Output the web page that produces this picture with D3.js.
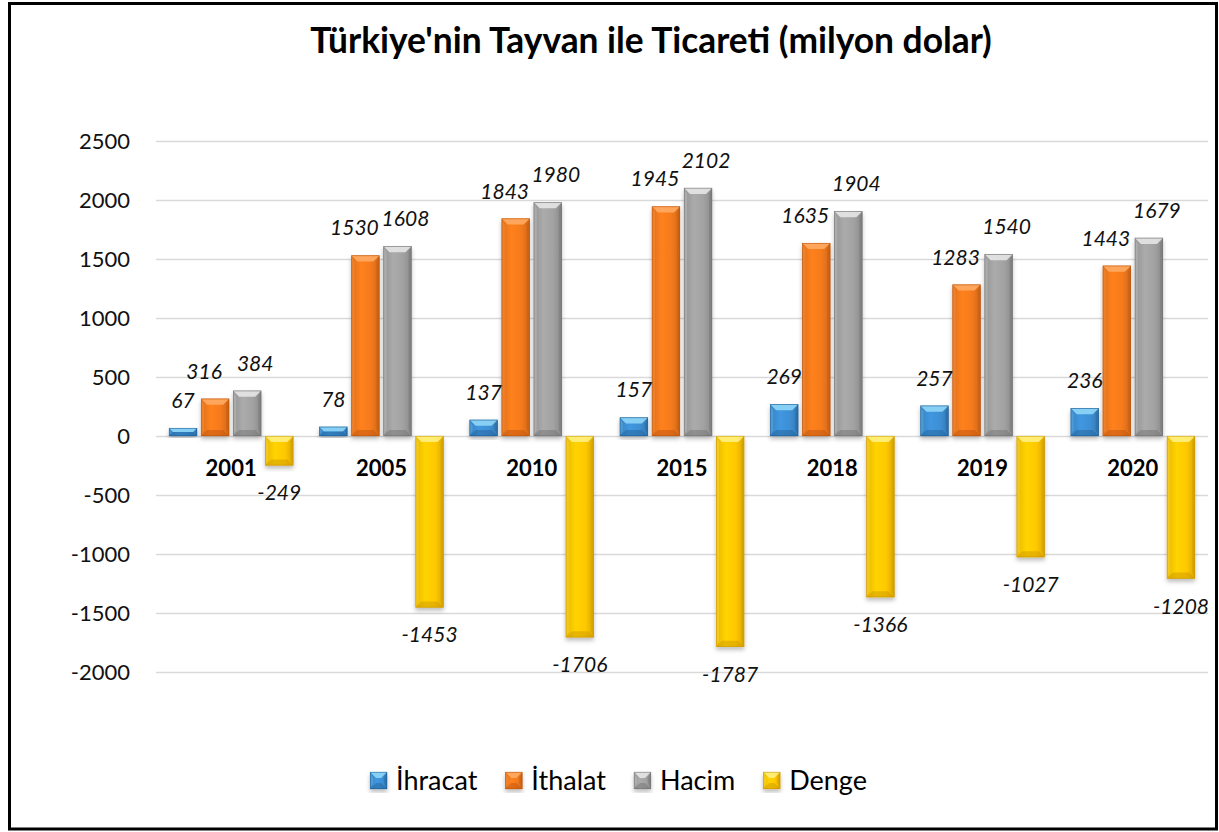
<!DOCTYPE html>
<html>
<head>
<meta charset="utf-8">
<script src="https://cdn.jsdelivr.net/npm/d3@7"></script>
<style>
  html, body { margin: 0; padding: 0; background: #fff; }
  svg { display: block; }
  text { font-family: Lato, "Open Sans", sans-serif; }
</style>
</head>
<body>
<svg id="chart" width="1219" height="832"></svg>
<script>
// ---- data ----
const categories = ["2001", "2005", "2010", "2015", "2018", "2019", "2020"];
const seriesNames = ["İhracat", "İthalat", "Hacim", "Denge"];
const ihracat = [67, 78, 137, 157, 269, 257, 236];
const ithalat = [316, 1530, 1843, 1945, 1635, 1283, 1443];
const hacim = [384, 1608, 1980, 2102, 1904, 1540, 1679];
const denge = [-249, -1453, -1706, -1787, -1366, -1027, -1208];
const yTicks = [2500, 2000, 1500, 1000, 500, 0, -500, -1000, -1500, -2000];
const titleText = "Türkiye'nin Tayvan ile Ticareti (milyon dolar)";

const seriesValues = [ihracat, ithalat, hacim, denge];
const palette = {
  "İhracat": { light: "#8fd6f7", body: "#3d8fd4", edge: "#1f5d93" },
  "İthalat": { light: "#ffab63", body: "#f47a1c", edge: "#b9520c" },
  "Hacim":   { light: "#e6e6e6", body: "#a2a2a2", edge: "#6e6e6e" },
  "Denge":   { light: "#fff080", body: "#ffc800", edge: "#c99400" }
};
const labelDx = { "İhracat": 0, "İthalat": -11, "Hacim": 8, "Denge": 0 };

const svg = d3.select("#chart");
const defs = svg.append("defs");

// gradients
seriesNames.forEach((s, i) => {
  const c = palette[s];
  const g = defs.append("linearGradient").attr("id", "grad" + i)
    .attr("x1", 0).attr("y1", 0).attr("x2", 1).attr("y2", 0);
  g.append("stop").attr("offset", "0%").attr("stop-color", d3.color(c.body).darker(0.25));
  g.append("stop").attr("offset", "35%").attr("stop-color", d3.color(c.body).brighter(0.15));
  g.append("stop").attr("offset", "70%").attr("stop-color", c.body);
  g.append("stop").attr("offset", "100%").attr("stop-color", d3.color(c.body).darker(0.45));
});
const f = defs.append("filter").attr("id", "shadow")
  .attr("x", "-30%").attr("y", "-10%").attr("width", "160%").attr("height", "130%");
f.append("feDropShadow").attr("dx", 0).attr("dy", 3).attr("stdDeviation", 2)
  .attr("flood-color", "#000").attr("flood-opacity", 0.25);

// background + frame
svg.append("rect").attr("x", 9.5).attr("y", 3.5).attr("width", 1207).attr("height", 825.5)
  .attr("fill", "#fff").attr("stroke", "#000").attr("stroke-width", 3);

// scales
const x0 = d3.scaleBand().domain(categories).range([156, 1208]).padding(0);
const x1 = d3.scaleBand().domain(seriesNames)
  .range([13, x0.bandwidth() - 13]).paddingInner(0.125).paddingOuter(0);
const y = d3.scaleLinear().domain([-2000, 2500]).range([672, 141]);

// grid
const yAxis = d3.axisLeft(y).tickValues(yTicks).tickSize(-(1208 - 156)).tickPadding(26)
  .tickFormat(d => String(d));
const ga = svg.append("g").attr("transform", "translate(156,0)").call(yAxis);
ga.select(".domain").remove();
ga.selectAll(".tick line").attr("stroke", "#d9d9d9").attr("stroke-width", 1.5);
ga.selectAll(".tick text").attr("font-size", 22).attr("fill", "#111")
  .attr("x", -26).attr("dy", "0.35em");

// title
const title = svg.append("text").attr("x", 651).attr("y", 53).attr("text-anchor", "middle")
  .attr("font-size", 30).attr("font-weight", "bold").attr("fill", "#000").text(titleText);
{
  const w = title.node().getComputedTextLength();
  title.attr("font-size", 30 * 682 / w);
}

// bar drawing helper
function drawBar(g, x, yTop, w, h, s, i) {
  const c = palette[s];
  const b = Math.min(6, h / 2, w / 2);
  const bg = g.append("g").attr("filter", "url(#shadow)");
  bg.append("rect").attr("x", x).attr("y", yTop).attr("width", w).attr("height", h)
    .attr("fill", "url(#grad" + i + ")");
  const poly = (pts, fill, op) => bg.append("polygon")
    .attr("points", pts.map(p => p.join(",")).join(" "))
    .attr("fill", fill).attr("fill-opacity", op);
  // top bevel
  poly([[x, yTop], [x + w, yTop], [x + w - b, yTop + b], [x + b, yTop + b]], c.light, 0.9);
  // bottom bevel
  poly([[x, yTop + h], [x + w, yTop + h], [x + w - b, yTop + h - b], [x + b, yTop + h - b]], c.edge, 0.45);
  // left strip
  poly([[x, yTop], [x + b * 0.5, yTop + b], [x + b * 0.5, yTop + h - b], [x, yTop + h]], c.light, 0.25);
  // right strip
  poly([[x + w, yTop], [x + w - b * 0.5, yTop + b], [x + w - b * 0.5, yTop + h - b], [x + w, yTop + h]], c.edge, 0.35);
  bg.append("rect").attr("x", x + 0.25).attr("y", yTop + 0.25).attr("width", w - 0.5).attr("height", Math.max(0, h - 0.5))
    .attr("fill", "none").attr("stroke", c.edge).attr("stroke-width", 0.8).attr("stroke-opacity", 0.7);
}

// bars
const barsG = svg.append("g");
categories.forEach((cat, ci) => {
  const cg = barsG.append("g").attr("transform", `translate(${x0(cat)},0)`);
  seriesNames.forEach((s, si) => {
    const v = seriesValues[si][ci];
    const yTop = y(Math.max(0, v));
    const h = Math.abs(y(v) - y(0));
    drawBar(cg, x1(s), yTop, x1.bandwidth(), h, s, si);
  });
});

// data labels
const labelsG = svg.append("g");
categories.forEach((cat, ci) => {
  seriesNames.forEach((s, si) => {
    const v = seriesValues[si][ci];
    const cx = x0(cat) + x1(s) + x1.bandwidth() / 2 + labelDx[s];
    const ty = v >= 0 ? y(v) - 20 : y(v) + 35;
    labelsG.append("text").attr("x", cx).attr("y", ty).attr("text-anchor", "middle")
      .attr("font-size", 21).attr("font-style", "italic").attr("fill", "#111").text(String(v));
  });
});

// category labels
svg.append("g").selectAll("text").data(categories).join("text")
  .attr("x", d => x0(d) + x0.bandwidth() / 2).attr("y", 476)
  .attr("text-anchor", "middle").attr("font-size", 22).attr("font-weight", "bold")
  .attr("fill", "#000").text(d => d);

// legend
const legend = svg.append("g");
let cursor = 0;
seriesNames.forEach((s, si) => {
  const ig = legend.append("g");
  drawBar(ig, 0, -18, 17, 17, s, si);
  const t = ig.append("text").attr("x", 26).attr("y", 0).attr("font-size", 27).attr("fill", "#000").text(s);
  const w = 26 + t.node().getComputedTextLength();
  ig.attr("transform", `translate(${cursor},0)`);
  cursor += w + 28;
});
const totalW = cursor - 28;
legend.attr("transform", `translate(${618.5 - totalW / 2},790)`);
</script>
</body>
</html>
